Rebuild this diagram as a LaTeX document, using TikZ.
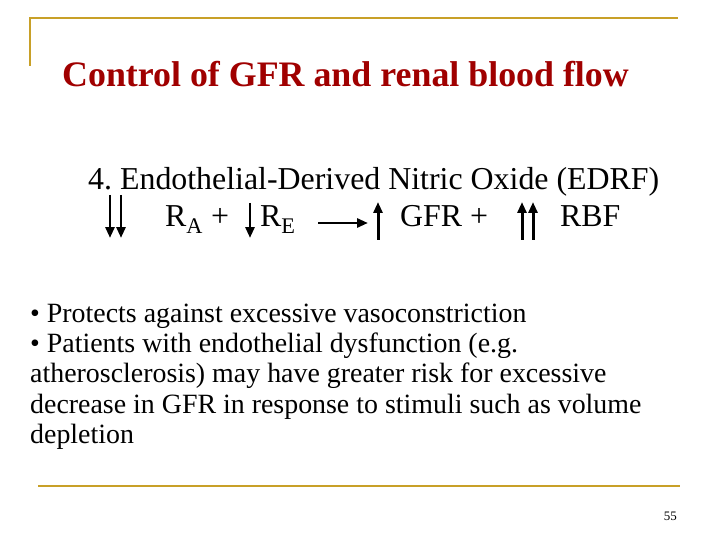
\documentclass[tikz,border=0pt]{standalone}
\usepackage{fontspec}
\setmainfont{Liberation Serif}
\usetikzlibrary{arrows.meta}
\definecolor{rulegold}{RGB}{200,160,40}
\definecolor{titlered}{RGB}{160,0,0}
\frenchspacing
\tikzset{
  txt/.style={anchor=base west,inner sep=0pt,font=\fontsize{28}{32}\selectfont},
  rel/.style={anchor=base west,inner sep=0pt,font=\fontsize{32}{36}\selectfont},
  flow/.style={line width=3pt,-{Triangle[length=11pt,width=9pt]}}
}
\begin{document}
\begin{tikzpicture}[x=1bp,y=-1bp]
        \useasboundingbox (0,0) rectangle (720,540);
        % frame rules
        \draw[rulegold,line width=2.5pt] (30,66) -- (30,18) -- (678,18);
        \draw[rulegold,line width=2.5pt] (38,486) -- (680,486);
        % title
        \node[anchor=base west,inner sep=0pt,text=titlered,font=\fontsize{36}{40}\selectfont\bfseries] (title) at (62,87) {Control of GFR and renal blood flow};
        % subtitle and relation
        \node[rel] (head) at (88,190) {4. Endothelial-Derived Nitric Oxide (EDRF)};
        \node[rel] (ra) at (165,227) {R\textsubscript{A} +};
        \node[rel] (re) at (260,227) {R\textsubscript{E}};
        \node[rel] (gfr) at (400,227) {GFR +};
        \node[rel] (rbf) at (560,227) {RBF};
        \foreach \n/\x/\a/\b in {da/110/195/238,db/121/195/238,dc/250/203/238,ua/378/240/202,ub/522/240/202,uc/533/240/202} {
          \coordinate (\n s) at (\x,\a);
          \coordinate (\n e) at (\x,\b);
          \draw[flow] (\n s) -- (\n e);
        }
        \coordinate (rs) at (318,223);
        \coordinate (re2) at (368,223);
        \draw[flow] (rs) -- (re2);
        % bullets
        \node[txt] (b1) at (30,322) {• Protects against excessive vasoconstriction};
        \node[txt] (b2) at (30,352) {• Patients with endothelial dysfunction (e.g.};
        \node[txt] (b3) at (30,382) {atherosclerosis) may have greater risk for excessive};
        \node[txt] (b4) at (30,413) {decrease in GFR in response to stimuli such as volume};
        \node[txt] (b5) at (30,443) {depletion};
        \node[anchor=base east,inner sep=0pt,font=\fontsize{13}{15}\selectfont] (page) at (677,520) {55};
      \end{tikzpicture}
\end{document}
